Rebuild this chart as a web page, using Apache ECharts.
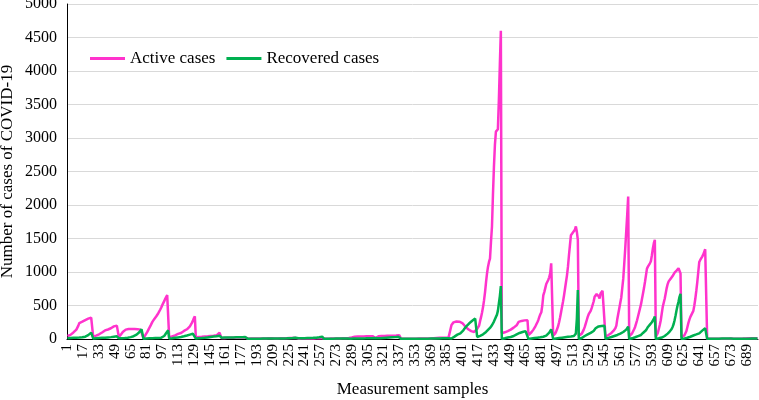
<!DOCTYPE html>
<html>
<head>
<meta charset="utf-8">
<script src="https://cdn.jsdelivr.net/npm/echarts@6/dist/echarts.min.js"></script>
<style>html,body{margin:0;padding:0;background:#fff;}#chart{width:759px;height:400px;}</style>
</head>
<body>
<div id="chart"></div>
<script>
// ---- data: each wave, in sample order ----
const active01 = [45,50,55,62,72,85,98,110,125,140,160,200,238,245,250,258,265,272,282,290,296,304,310,316,320,325];
const active02 = [35,40,45,50,56,62,70,78,88,98,108,118,128,135,138,142,146,150,160,172,182,188,192,198,200,192];
const active03 = [30,45,65,85,105,120,132,140,145,148,150,150,148,150,152,150,148,147,148,146,145,143,140,138,135];
const active04 = [10,30,60,85,110,140,165,195,225,255,280,300,320,340,360,385,410,440,470,505,535,565,600,625,655,680];
const active05 = [25,30,35,40,45,50,55,62,70,76,80,85,90,100,110,120,130,138,145,158,170,190,210,240,270,310,340];
const active06 = [25,26,28,30,30,32,33,35,36,38,38,40,40,42,43,44,45,46,48,50,52,55,60,80,95,90];
const active07 = [15,15,16,16,17,17,18,18,18,19,19,20,20,20,21,21,22,22,22,23,23,24,24,25,25,25];
const active08 = [5,5,5,6,6,6,6,7,7,7,7,8,8,8,8,8,9,9,9,9,10,10,10,10,10,10];
const active09 = [6,6,7,7,8,8,9,9,10,10,11,11,12,12,12,13,13,14,14,15,15,16,16,17,18,18];
const active10 = [5,5,5,6,6,6,6,7,7,7,8,8,8,8,9,9,9,10,10,10,10,11,11,11,12,12];
const active11 = [4,4,5,5,5,5,6,6,6,6,7,7,7,8,8,8,9,9,10,10,10,11,11,12,14,15];
const active12 = [10,15,22,28,32,34,35,36,36,37,37,38,38,38,39,39,40,40,40,40,41,41,42,42,42,43];
const active13 = [15,25,35,40,42,43,44,44,45,45,46,46,47,47,48,48,48,49,49,50,50,51,52,54,58,62];
const active14 = [3,3,3,3,4,4,4,4,4,5,5,5,5,5,5,5,6,6,6,6,6,6,6,7,7,7];
const active15 = [5,6,7,8,9,10,11,12,13,14,15,16,17,17,18,18,19,19,20,20,20,21,21,22,22];
const active16 = [210,238,248,252,256,260,262,261,258,252,246,238,222,205,190,175,160,145,135,125,118,112,108,105,110,125];
const active17 = [150,160,200,270,330,400,480,580,700,850,980,1080,1150,1200,1450,1675,2150,2570,2900,3095,3110,3130,3570,4100,4600];
const active18 = [85,90,95,100,105,110,118,125,132,140,150,160,170,180,190,205,225,255,262,266,270,272,275,278,282,285,280];
const active19 = [60,70,85,100,120,140,160,190,220,250,285,330,370,400,500,650,700,760,820,850,880,920,980,1130,1155];
const active20 = [50,60,80,110,150,190,250,320,400,480,560,650,750,850,950,1080,1250,1400,1550,1570,1590,1610,1630,1680,1600,1480];
const active21 = [50,55,60,80,110,140,180,230,280,330,370,380,420,460,480,560,630,650,670,680,640,605,680,705,720,730,735];
const active22 = [35,40,50,60,70,80,90,105,120,140,160,200,300,380,460,540,620,760,900,1120,1350,1600,1850,2125];
const active23 = [40,50,60,85,110,145,180,230,280,340,400,460,520,600,680,760,850,950,1050,1080,1100,1130,1160,1250,1350,1430,1480];
const active24 = [30,50,90,150,210,280,380,480,540,600,680,760,820,860,880,900,920,940,965,990,1005,1020,1040,1055,1030,980];
const active25 = [30,35,40,55,80,120,180,240,290,330,360,390,420,500,600,720,850,1000,1150,1180,1200,1230,1260,1300,1340,1360];
const active26 = [2,2,3,3,3,3,3,4,4,4,4,4,4,4,5,5,5,5,5,5,5,5,6,6,6,6];
const active27 = [3,3,3,4,4,4,5,5,5,6,6,6,7,8,9,10,11,12,12,12,12,12,11,11,10,10];

const recovered01 = [10,12,12,14,15,16,17,18,18,20,20,21,22,24,25,26,28,30,35,40,48,58,70,82,95,102];
const recovered02 = [8,9,10,11,12,13,14,15,16,17,18,19,20,21,22,24,25,26,28,30,32,34,36,38,40,42];
const recovered03 = [10,11,12,13,14,15,16,17,18,20,22,25,28,32,36,42,48,56,65,75,88,105,125,145,160];
const recovered04 = [5,6,7,8,8,9,10,10,11,12,12,13,14,14,15,16,17,18,20,24,30,45,65,90,115,130];
const recovered05 = [8,9,10,12,14,16,18,20,22,24,25,28,30,33,36,40,44,48,52,56,60,65,70,74,78,82,85];
const recovered06 = [8,9,10,11,12,13,14,15,16,18,20,22,24,26,28,30,32,34,36,38,40,42,45,48,50,52];
const recovered07 = [20,20,21,21,22,22,22,23,23,23,24,24,24,25,25,25,26,26,26,27,27,27,28,28,28,28];
const recovered08 = [3,3,3,3,4,4,4,4,4,5,5,5,5,5,5,6,6,6,6,6,6,7,7,7,7,7];
const recovered09 = [5,5,6,6,6,7,7,7,8,8,8,9,9,10,10,11,12,12,13,14,15,16,18,20,24,28];
const recovered10 = [10,10,11,11,12,12,12,13,13,14,14,15,15,16,16,17,18,19,20,22,24,26,28,30,34,36];
const recovered11 = [3,3,3,4,4,4,4,5,5,5,5,5,6,6,6,6,7,7,7,7,8,8,8,8,9,9];
const recovered12 = [5,5,6,6,6,7,7,7,8,8,8,9,9,9,10,10,10,11,11,12,12,13,13,14,14,15];
const recovered13 = [8,9,10,11,12,13,14,15,16,17,18,19,20,21,22,23,24,25,26,27,28,30,32,34,36,38];
const recovered14 = [2,2,2,2,2,3,3,3,3,3,3,3,4,4,4,4,4,4,4,5,5,5,5,5,5,5];
const recovered15 = [5,5,6,6,6,7,7,7,8,8,8,9,9,9,10,10,10,11,11,11,12,12,12,13,13];
const recovered16 = [8,15,25,35,45,55,65,72,80,85,95,110,130,150,170,190,205,220,235,248,260,272,285,295,305,312];
const recovered17 = [30,35,40,48,55,62,70,82,92,105,118,135,150,165,185,205,230,260,295,330,360,420,530,640,790];
const recovered18 = [0,3,6,10,14,18,22,25,28,30,32,35,45,55,62,70,78,85,90,95,100,104,108,112,118,125,130];
const recovered19 = [0,3,6,8,10,12,14,16,18,20,22,24,26,28,30,34,38,44,50,60,75,95,120,145,160];
const recovered20 = [0,3,5,8,10,12,14,16,18,20,22,24,26,28,30,32,34,36,38,40,42,45,50,80,300,730];
const recovered21 = [0,5,10,15,20,25,45,55,62,70,78,85,92,100,108,120,140,160,175,185,188,190,192,193,194,195,196];
const recovered22 = [5,8,12,16,20,25,30,35,40,45,50,55,60,65,72,80,88,95,105,115,125,140,160,185];
const recovered23 = [0,3,6,10,14,20,26,32,38,44,50,55,60,75,90,100,110,130,150,180,200,215,235,250,275,300,335];
const recovered24 = [0,3,6,10,14,18,22,28,35,45,55,65,80,95,110,130,150,180,220,280,350,430,500,560,630,675];
const recovered25 = [0,3,5,8,10,14,18,22,28,34,40,46,52,58,62,68,74,80,85,95,110,125,135,145,160,165];
const recovered26 = [4,4,4,5,5,5,5,5,5,5,5,5,5,5,5,6,6,6,6,6,6,6,6,6,6,6];
const recovered27 = [4,4,4,4,5,5,5,5,5,5,5,5,5,5,5,5,5,5,6,6,6,6,6,6,6,6];

const yTicks = [0,500,1000,1500,2000,2500,3000,3500,4000,4500,5000];
const labelEvery = 16;

// ---- assemble ----
const activeCases = [].concat(active01,active02,active03,active04,active05,active06,active07,active08,active09,
  active10,active11,active12,active13,active14,active15,active16,active17,active18,active19,active20,
  active21,active22,active23,active24,active25,active26,active27);
const recoveredCases = [].concat(recovered01,recovered02,recovered03,recovered04,recovered05,recovered06,recovered07,
  recovered08,recovered09,recovered10,recovered11,recovered12,recovered13,recovered14,recovered15,recovered16,
  recovered17,recovered18,recovered19,recovered20,recovered21,recovered22,recovered23,recovered24,recovered25,
  recovered26,recovered27);
const samples = activeCases.map((_, i) => String(i + 1));

const FONT = '"Liberation Serif", "Times New Roman", serif';
const chart = echarts.init(document.getElementById('chart'), null, {renderer: 'canvas'});
chart.setOption({
  animation: false,
  textStyle: {fontFamily: FONT},
  grid: {left: 67, right: 1, top: 4, bottom: 61, outerBoundsMode: 'none'},
  legend: {
    left: 85, top: 45, padding: 5,
    icon: 'rect', itemWidth: 35, itemHeight: 3, itemGap: 11,
    textStyle: {fontFamily: FONT, fontSize: 17, color: '#000'},
    data: ['Active cases', 'Recovered cases']
  },
  xAxis: {
    type: 'category',
    data: samples,
    boundaryGap: true,
    name: 'Measurement samples',
    nameLocation: 'middle',
    nameGap: 42,
    nameMoveOverlap: false,
    nameTextStyle: {fontFamily: FONT, fontSize: 17, color: '#000'},
    axisLine: {show: true, lineStyle: {color: '#000', width: 1}},
    axisTick: {show: false},
    axisLabel: {interval: labelEvery - 1, rotate: 90, fontFamily: FONT, fontSize: 15, color: '#000', margin: 5},
    splitLine: {show: false}
  },
  yAxis: {
    type: 'value',
    min: yTicks[0], max: yTicks[yTicks.length - 1], interval: yTicks[1] - yTicks[0],
    name: 'Number of cases of COVID-19',
    nameLocation: 'middle',
    nameGap: 51,
    nameMoveOverlap: false,
    nameTextStyle: {fontFamily: FONT, fontSize: 17, color: '#000'},
    axisLine: {show: true, lineStyle: {color: '#000', width: 1}},
    axisTick: {show: false},
    axisLabel: {fontFamily: FONT, fontSize: 16, color: '#000', margin: 10, formatter: v => String(v)},
    splitLine: {show: true, lineStyle: {color: '#d9d9d9', width: 1}}
  },
  series: [
    {name: 'Active cases', type: 'line', data: activeCases, showSymbol: false, symbol: 'none',
     lineStyle: {color: '#ff33cc', width: 2.5}, itemStyle: {color: '#ff33cc'}},
    {name: 'Recovered cases', type: 'line', data: recoveredCases, showSymbol: false, symbol: 'none',
     lineStyle: {color: '#00b050', width: 2.5}, itemStyle: {color: '#00b050'}}
  ]
});
</script>
</body>
</html>
